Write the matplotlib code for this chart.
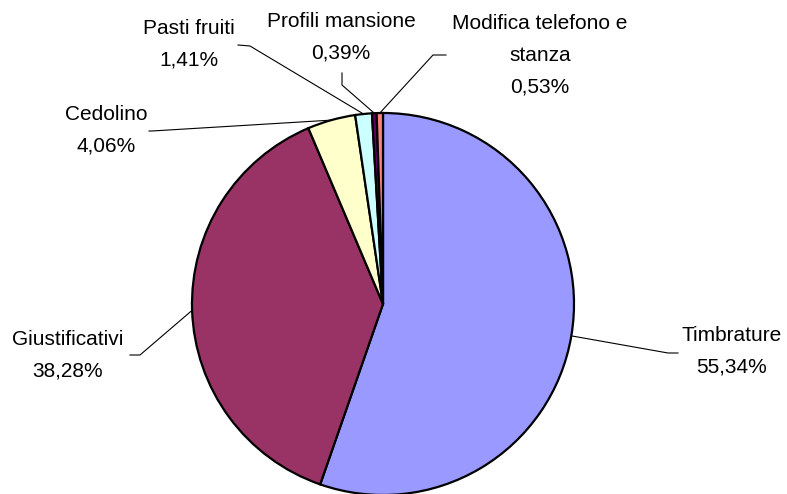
import matplotlib
matplotlib.use("Agg")
import matplotlib.pyplot as plt
import numpy as np

plt.rcParams['font.family'] = ['Liberation Sans', 'DejaVu Sans']

categorie = ["Timbrature", "Giustificativi", "Cedolino", "Pasti fruiti",
             "Profili mansione", "Modifica telefono e\nstanza"]
percentuali = [55.34, 38.28, 4.06, 1.41, 0.39, 0.53]
colori = ["#9999FF", "#993366", "#FFFFCC", "#CCFFFF", "#660066", "#FF8080"]

W, H = 787, 494

def py(y):
    # coordinate in pixel dall'alto -> coordinate asse
    return H - y

fig = plt.figure(figsize=(W / 100, H / 100), dpi=100)
ax = fig.add_axes([0, 0, 1, 1])
ax.axis("off")

cx, cy, r = 383, 304, 191
wedges, _ = ax.pie(percentuali, colors=colori, startangle=90, counterclock=False,
                   center=(cx, py(cy)), radius=r,
                   wedgeprops=dict(edgecolor="black", linewidth=1.6))
ax.set_xlim(0, W)
ax.set_ylim(0, H)
ax.set_aspect("equal")

# gomito e fine della linea guida, posizione del testo (pixel dall'alto)
guide = [
    ((668, 353), (678, 353), (732, 351)),
    ((140, 355), (130, 355), (68, 355)),
    ((152, 131), (149, 131), (106, 130)),
    ((250, 46), (238, 45), (189, 44)),
    ((342, 85), (342, 73), (341, 37)),
    ((433, 55), (446, 55), (540, 55)),
]

for w, nome, p, (gomito, fine, pos) in zip(wedges, categorie, percentuali, guide):
    ang = np.deg2rad((w.theta1 + w.theta2) / 2)
    x0 = cx + r * np.cos(ang)
    y0 = py(cy) + r * np.sin(ang)
    ax.plot([x0, gomito[0], fine[0]], [y0, py(gomito[1]), py(fine[1])],
            color="black", linewidth=0.8)
    testo = nome + "\n" + f"{p:.2f}".replace(".", ",") + "%"
    ax.text(pos[0], py(pos[1]), testo, ha="center", va="center",
            fontsize=15, linespacing=1.85, multialignment="center")

fig.savefig("out.png", dpi=100)
